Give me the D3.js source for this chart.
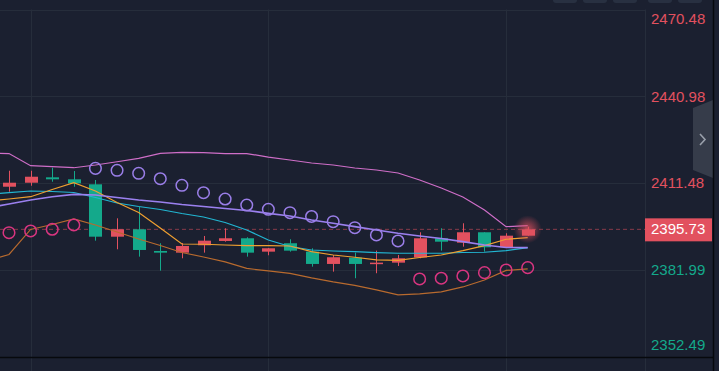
<!DOCTYPE html>
<html>
<head>
<meta charset="utf-8">
<script src="https://cdn.jsdelivr.net/npm/d3@7"></script>
<style>
  body { margin: 0; background: #1b2030; }
  svg { display: block; }
</style>
</head>
<body>
<div id="chart"></div>
<script>
// price axis ticks + last price
const tickValues = [2352.49, 2381.99, 2411.48, 2440.98, 2470.48];
const lastPrice = 2395.73;

// candles (25 visible)
const opens  = [2410.22, 2411.58, 2413.42, 2412.74, 2411.04, 2393.23, 2395.75, 2388.37, 2387.80, 2390.31, 2391.77, 2392.69, 2388.14, 2391.00, 2388.14, 2383.96, 2386.10, 2383.96, 2384.40, 2386.17, 2392.69, 2391.19, 2394.73, 2389.63, 2393.57];
const closes = [2411.58, 2413.62, 2412.74, 2411.38, 2393.23, 2395.75, 2388.71, 2387.80, 2390.07, 2391.87, 2392.69, 2387.80, 2389.29, 2388.48, 2383.96, 2386.24, 2383.96, 2384.40, 2385.89, 2392.69, 2391.53, 2394.73, 2389.63, 2393.57, 2395.73];
const highs  = [2415.66, 2415.66, 2416.68, 2415.56, 2412.50, 2399.48, 2403.43, 2391.00, 2391.09, 2393.47, 2396.09, 2393.03, 2389.39, 2392.35, 2389.29, 2387.01, 2387.80, 2388.48, 2387.01, 2394.73, 2396.09, 2397.79, 2394.73, 2394.39, 2396.63];
const lows   = [2408.52, 2410.56, 2411.92, 2410.22, 2391.87, 2388.95, 2386.44, 2381.68, 2385.89, 2387.80, 2391.53, 2386.44, 2386.91, 2388.14, 2383.04, 2381.34, 2379.10, 2380.80, 2383.28, 2385.89, 2388.48, 2389.84, 2388.14, 2389.56, 2393.57];

// indicator lines, first value belongs to the candle just off the left edge
const bollUpper = [2421.67, 2421.50, 2417.36, 2417.02, 2416.68, 2417.60, 2418.72, 2419.87, 2421.57, 2421.91, 2421.78, 2421.50, 2421.50, 2420.31, 2419.30, 2418.28, 2417.60, 2416.58, 2415.90, 2414.88, 2412.50, 2409.78, 2406.72, 2402.31, 2396.63, 2396.97];
const bollMid   = [2402.98, 2404.34, 2405.70, 2406.82, 2407.64, 2407.40, 2406.55, 2405.70, 2405.02, 2404.17, 2403.49, 2402.82, 2402.14, 2401.18, 2400.27, 2398.91, 2397.79, 2396.63, 2395.51, 2394.39, 2393.47, 2392.62, 2391.53, 2390.41, 2389.56, 2389.49];
const bollLower = [2384.98, 2387.18, 2395.68, 2397.38, 2399.25, 2397.21, 2394.83, 2392.45, 2390.24, 2387.86, 2386.33, 2384.64, 2382.43, 2381.58, 2380.73, 2379.20, 2377.84, 2376.65, 2375.12, 2373.42, 2373.76, 2374.44, 2376.14, 2378.52, 2381.75, 2382.26];
const maFast    = [2405.36, 2406.04, 2406.82, 2409.27, 2411.58, 2408.76, 2404.85, 2401.46, 2396.19, 2390.75, 2390.65, 2390.41, 2390.17, 2390.17, 2390.07, 2388.14, 2387.01, 2386.23, 2385.32, 2385.15, 2386.16, 2387.01, 2388.48, 2390.17, 2392.35, 2392.89];
const maSlow    = [2407.57, 2408.18, 2408.76, 2408.59, 2408.25, 2406.55, 2404.68, 2403.49, 2402.48, 2401.12, 2399.93, 2398.06, 2395.51, 2392.11, 2389.90, 2388.71, 2388.37, 2388.14, 2387.80, 2387.59, 2387.59, 2387.59, 2387.86, 2387.93, 2388.48, 2389.49];

// parabolic SAR, one per visible candle
const sar = [2394.59, 2395.17, 2395.75, 2397.21, 2416.47, 2415.80, 2414.78, 2412.94, 2410.70, 2408.18, 2406.04, 2404.00, 2402.54, 2401.39, 2400.10, 2398.33, 2396.29, 2393.81, 2391.77, 2378.86, 2379.10, 2379.88, 2381.00, 2381.92, 2382.70];

// Dimensions
const width = 719;
const height = 371;
const plotRight = 645;
const axisRight = 713;
const plotTop = 9.5;
const plotBottom = 356.5;

const red = "#e2515f";
const green = "#14a98b";
const grid = "#262d3b";

const svg = d3.select("#chart")
  .append("svg")
    .attr("width", width)
    .attr("height", height);

svg.append("rect")
  .attr("width", width)
  .attr("height", height)
  .attr("fill", "#1b2030");

const defs = svg.append("defs");
defs.append("clipPath")
    .attr("id", "plot-clip")
  .append("rect")
    .attr("x", 0)
    .attr("y", 0)
    .attr("width", plotRight)
    .attr("height", plotBottom);

const glow = defs.append("radialGradient").attr("id", "glow");
glow.append("stop").attr("offset", "0%").attr("stop-color", red).attr("stop-opacity", 0.8);
glow.append("stop").attr("offset", "100%").attr("stop-color", red).attr("stop-opacity", 0);

// Scales
const x = d3.scaleLinear().domain([0, opens.length - 1]).range([9, 527.7]);
const y = d3.scaleLinear().domain([tickValues[0], tickValues[tickValues.length - 1]]).range([plotBottom, plotTop]);

// toolbar stubs peeking in at the top
const buttons = d3.range(5);
const btnX = d3.scaleOrdinal().domain(buttons).range([553, 583, 613, 648, 678]);
svg.append("g")
  .selectAll("rect")
  .data(buttons)
  .join("rect")
    .attr("x", d => btnX(d))
    .attr("y", -6)
    .attr("width", 24)
    .attr("height", 9)
    .attr("rx", 3)
    .attr("fill", "#283041");

// grid
svg.append("g")
  .selectAll("line")
  .data(tickValues.slice(1))
  .join("line")
    .attr("x1", 0)
    .attr("x2", plotRight)
    .attr("y1", d => Math.round(y(d)) + 0.5)
    .attr("y2", d => Math.round(y(d)) + 0.5)
    .attr("stroke", grid);

const vGrid = [1, 12, 23];
svg.append("g")
  .selectAll("line")
  .data(vGrid)
  .join("line")
    .attr("x1", d => Math.round(x(d)) + 0.5)
    .attr("x2", d => Math.round(x(d)) + 0.5)
    .attr("y1", plotTop)
    .attr("y2", height)
    .attr("stroke", grid);

// axis separator
svg.append("line")
  .attr("x1", plotRight + 0.5).attr("x2", plotRight + 0.5)
  .attr("y1", plotTop).attr("y2", height)
  .attr("stroke", grid);

const plot = svg.append("g").attr("clip-path", "url(#plot-clip)");

// last price dashed line
plot.append("line")
  .attr("x1", 0)
  .attr("x2", plotRight)
  .attr("y1", y(lastPrice))
  .attr("y2", y(lastPrice))
  .attr("stroke", red)
  .attr("stroke-opacity", 0.55)
  .attr("stroke-dasharray", "4 3");

// Indicator lines (index starts at -1)
const line = d3.line()
  .x((d, i) => x(i - 1))
  .y(d => y(d));

const series = [
  {values: bollUpper, color: "#cf6ec8", w: 1.2},
  {values: bollLower, color: "#b86a2e", w: 1.2},
  {values: maSlow, color: "#22b6d2", w: 1.2},
  {values: maFast, color: "#f0a030", w: 1.2},
  {values: bollMid, color: "#9b80ef", w: 1.7}
];

// Candles
const candles = opens.map((o, i) => ({i, o, c: closes[i], h: highs[i], l: lows[i]}));
const up = d => d.c >= d.o;

const cg = plot.append("g")
  .selectAll("g")
  .data(candles)
  .join("g");

cg.append("line")
  .attr("x1", d => Math.round(x(d.i)) + 0.5)
  .attr("x2", d => Math.round(x(d.i)) + 0.5)
  .attr("y1", d => y(d.h))
  .attr("y2", d => y(d.l))
  .attr("stroke", d => up(d) ? red : green);

cg.append("rect")
  .attr("x", d => Math.round(x(d.i)) - 6)
  .attr("width", 13)
  .attr("y", d => y(Math.max(d.o, d.c)))
  .attr("height", d => Math.max(1.5, Math.abs(y(d.o) - y(d.c))))
  .attr("fill", d => up(d) ? red : green);

plot.append("g")
  .selectAll("path")
  .data(series)
  .join("path")
    .attr("d", d => line(d.values))
    .attr("fill", "none")
    .attr("stroke", d => d.color)
    .attr("stroke-width", d => d.w);

// SAR circles
plot.append("g")
  .selectAll("circle")
  .data(sar)
  .join("circle")
    .attr("cx", (d, i) => x(i))
    .attr("cy", d => y(d))
    .attr("r", 5.8)
    .attr("fill", "none")
    .attr("stroke-width", 1.5)
    .attr("stroke", (d, i) => d > closes[i] ? "#9a7ee8" : "#d93580");

// glow on the live candle
plot.append("circle")
  .attr("cx", x(opens.length - 1))
  .attr("cy", y(lastPrice))
  .attr("r", 14)
  .attr("fill", "url(#glow)");

// price labels
svg.append("g")
  .selectAll("text")
  .data(tickValues)
  .join("text")
    .attr("x", 651)
    .attr("y", d => Math.min(346, Math.max(20, y(d) + 1.5)))
    .attr("dominant-baseline", "middle")
    .attr("font-family", "Liberation Sans, Arial, sans-serif")
    .attr("font-size", 15)
    .attr("fill", d => d > lastPrice ? red : green)
    .text(d => d.toFixed(2));

// last price tag
const tag = svg.append("g");
tag.append("rect")
  .attr("x", plotRight)
  .attr("y", y(lastPrice) - 11)
  .attr("width", axisRight - plotRight - 1)
  .attr("height", 23)
  .attr("fill", red);
tag.append("text")
  .attr("x", 651)
  .attr("y", y(lastPrice) + 1)
  .attr("dominant-baseline", "middle")
  .attr("font-family", "Liberation Sans, Arial, sans-serif")
  .attr("font-size", 15)
  .attr("fill", "#ffffff")
  .text(lastPrice.toFixed(2));

// collapse button
svg.append("path")
  .attr("d", "M713,100 L693,108 L693,170 L713,178 Z")
  .attr("fill", "#363c4a");
svg.append("path")
  .attr("d", "M700,134 L705,139.5 L700,145")
  .attr("fill", "none")
  .attr("stroke", "#9aa0ab")
  .attr("stroke-width", 1.6);

// frame edges
svg.append("line")
  .attr("x1", 0).attr("x2", axisRight)
  .attr("y1", 357.5).attr("y2", 357.5)
  .attr("stroke", "#07090d")
  .attr("stroke-width", 1.5);
svg.append("line")
  .attr("x1", axisRight + 0.5).attr("x2", axisRight + 0.5)
  .attr("y1", 0).attr("y2", height)
  .attr("stroke", "#07090d")
  .attr("stroke-width", 1.5);
</script>
</body>
</html>
